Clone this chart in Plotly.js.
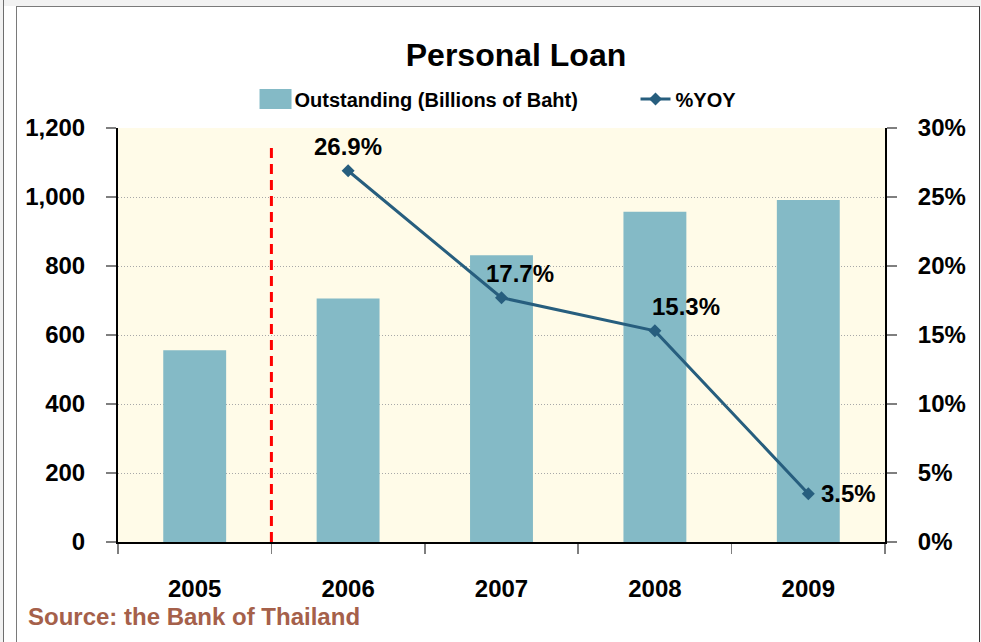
<!DOCTYPE html>
<html>
<head>
<meta charset="utf-8">
<script src="https://cdn.plot.ly/plotly-3.0.1.min.js"></script>
<style>
  html, body { margin: 0; padding: 0; background: #ffffff; }
  #wrap { position: relative; width: 981px; height: 642px; overflow: hidden; }
  #chart { position: absolute; left: 0; top: 0; width: 981px; height: 642px; }
  .deco { position: absolute; pointer-events: none; }
</style>
</head>
<body>
<div id="wrap">
  <div id="chart"></div>
  <div class="deco" style="left:0;top:0;width:981px;height:6px;background:#f2f2f2;"></div>
  <div class="deco" style="left:0;top:0;width:3px;height:642px;background:#f2f2f2;"></div>
  <div class="deco" style="left:3px;top:0;width:1px;height:642px;background:#6e6e6e;"></div>
  <div class="deco" style="left:16px;top:6px;width:962px;height:640px;border-left:1px solid #7a7a7a;border-top:1px solid #7a7a7a;border-right:1px solid #333;"></div>
  <div class="deco" style="left:980px;top:0;width:1px;height:642px;background:#f2f2f2;"></div>
</div>
<script>
const categories = ['2005', '2006', '2007', '2008', '2009'];
const outstanding = [556, 706, 831, 957, 991];
const yoyCategories = ['2006', '2007', '2008', '2009'];
const yoyValues = [26.9, 17.7, 15.3, 3.5];
const yoyLabels = ['26.9%', '17.7%', '15.3%', '3.5%'];
const labelShiftX = [0, 18, 31, 40];
const labelShiftY = [24, 24, 24, 0];
const dividerAfter = '2005';
const leftTicks = [0, 200, 400, 600, 800, 1000, 1200];
const rightTicks = [0, 5, 10, 15, 20, 25, 30];

const FONT = 'Liberation Sans, Arial, Helvetica, sans-serif';
const barColor = '#84bac6';
const lineColor = '#275e7e';

const traces = [
  {
    type: 'bar', name: 'Outstanding (Billions of Baht)',
    x: categories, y: outstanding, xaxis: 'x', yaxis: 'y',
    marker: { color: barColor, line: { width: 0 } },
    legendwidth: 336
  },
  {
    type: 'scatter', mode: 'lines+markers', name: '%YOY',
    x: yoyCategories, y: yoyValues, xaxis: 'x', yaxis: 'y2',
    line: { color: lineColor, width: 3 },
    marker: { symbol: 'diamond', size: 10, color: lineColor }
  }
];

const annotations = yoyCategories.map((c, i) => ({
  x: categories.indexOf(c), y: yoyValues[i], xref: 'x', yref: 'y2',
  text: yoyLabels[i], showarrow: false,
  xshift: labelShiftX[i], yshift: labelShiftY[i],
  xanchor: 'center', yanchor: 'middle',
  font: { family: FONT, size: 24, color: '#000', weight: 'bold' }
}));
annotations.push({
  text: 'Source: the Bank of Thailand', showarrow: false,
  xref: 'paper', yref: 'paper', x: -0.1205, y: -0.1796,
  xanchor: 'left', yanchor: 'middle',
  font: { family: FONT, size: 24, color: '#a5604a', weight: 'bold' }
});

const divIdx = categories.indexOf(dividerAfter) + 0.5;

const tickFont = { family: FONT, size: 24, color: '#000', weight: 'bold' };

const layout = {
  width: 981, height: 642,
  margin: { l: 117.5, r: 96, t: 128, b: 100.3, pad: 0 },
  paper_bgcolor: '#ffffff',
  plot_bgcolor: '#fffbe8',
  showlegend: true,
  bargap: 0.59,
  title: {
    text: 'Personal Loan',
    x: 0.526, xanchor: 'center', xref: 'container',
    y: 1 - 55 / 642, yanchor: 'middle', yref: 'container',
    font: { family: FONT, size: 32, color: '#000', weight: 'bold' }
  },
  legend: {
    orientation: 'h', x: 0.178, xanchor: 'left', y: 1.07, yanchor: 'middle',
    font: { family: FONT, size: 20, color: '#000', weight: 'bold' },
    bgcolor: 'rgba(0,0,0,0)', itemwidth: 30,
    traceorder: 'normal'
  },
  xaxis: {
    type: 'category', categoryorder: 'array', categoryarray: categories,
    range: [-0.5, 4.5], tickson: 'boundaries',
    ticks: 'outside', ticklen: 10, tickwidth: 1.5, tickcolor: '#7f7f7f',
    showline: true, linecolor: '#000', linewidth: 2,
    showgrid: false, zeroline: false,
    tickfont: tickFont, ticklabelstandoff: 24
  },
  xaxis2: {
    overlaying: 'x', anchor: 'y', range: [-0.5, 4.5], tick0: -0.5, dtick: 1,
    ticks: 'inside', ticklen: 10, tickwidth: 1.5, tickcolor: '#7f7f7f',
    showticklabels: false, showgrid: false, zeroline: false, showline: false
  },
  yaxis: {
    range: [0, 1200], tickvals: leftTicks, tickformat: ',d',
    ticks: 'outside', ticklen: 10, tickwidth: 1.5, tickcolor: '#7f7f7f',
    showline: true, linecolor: '#000', linewidth: 2,
    showgrid: true, gridcolor: '#a8a8a8', gridwidth: 1, griddash: '1px,2px',
    zeroline: false, tickfont: tickFont, ticklabelstandoff: 16
  },
  yaxis3: {
    overlaying: 'y', anchor: 'x', side: 'left', range: [0, 1200], tickvals: leftTicks,
    ticks: 'inside', ticklen: 10, tickwidth: 1.5, tickcolor: '#7f7f7f',
    showticklabels: false, showgrid: false, zeroline: false, showline: false
  },
  yaxis2: {
    overlaying: 'y', side: 'right', anchor: 'x', range: [0, 30],
    tickvals: rightTicks, ticktext: rightTicks.map(v => v + '%'),
    ticks: 'outside', ticklen: 10, tickwidth: 1.5, tickcolor: '#7f7f7f',
    showline: true, linecolor: '#000', linewidth: 2,
    showgrid: false, zeroline: false, tickfont: tickFont, ticklabelstandoff: 16
  },
  yaxis4: {
    overlaying: 'y', side: 'right', anchor: 'x', range: [0, 30], tickvals: rightTicks,
    ticks: 'inside', ticklen: 10, tickwidth: 1.5, tickcolor: '#7f7f7f',
    showticklabels: false, showgrid: false, zeroline: false, showline: false
  },
  shapes: [{
    type: 'line', xref: 'x', yref: 'paper',
    x0: divIdx, x1: divIdx, y0: 0, y1: 0.952,
    line: { color: '#ff0000', width: 3, dash: '10px,6px' }, layer: 'above'
  }],
  annotations: annotations
};

Plotly.newPlot('chart', traces, layout, { displayModeBar: false, staticPlot: true }).then(gd => {
  // enlarge the bar legend swatch to the wide rectangle of the original
  const p = gd.querySelector('.legend .traces .legendpoints .legendbar path, .legend .traces .legendpoints path');
  if (p) p.setAttribute('d', 'M17,10H-15V-10H17Z');
});
</script>
</body>
</html>
